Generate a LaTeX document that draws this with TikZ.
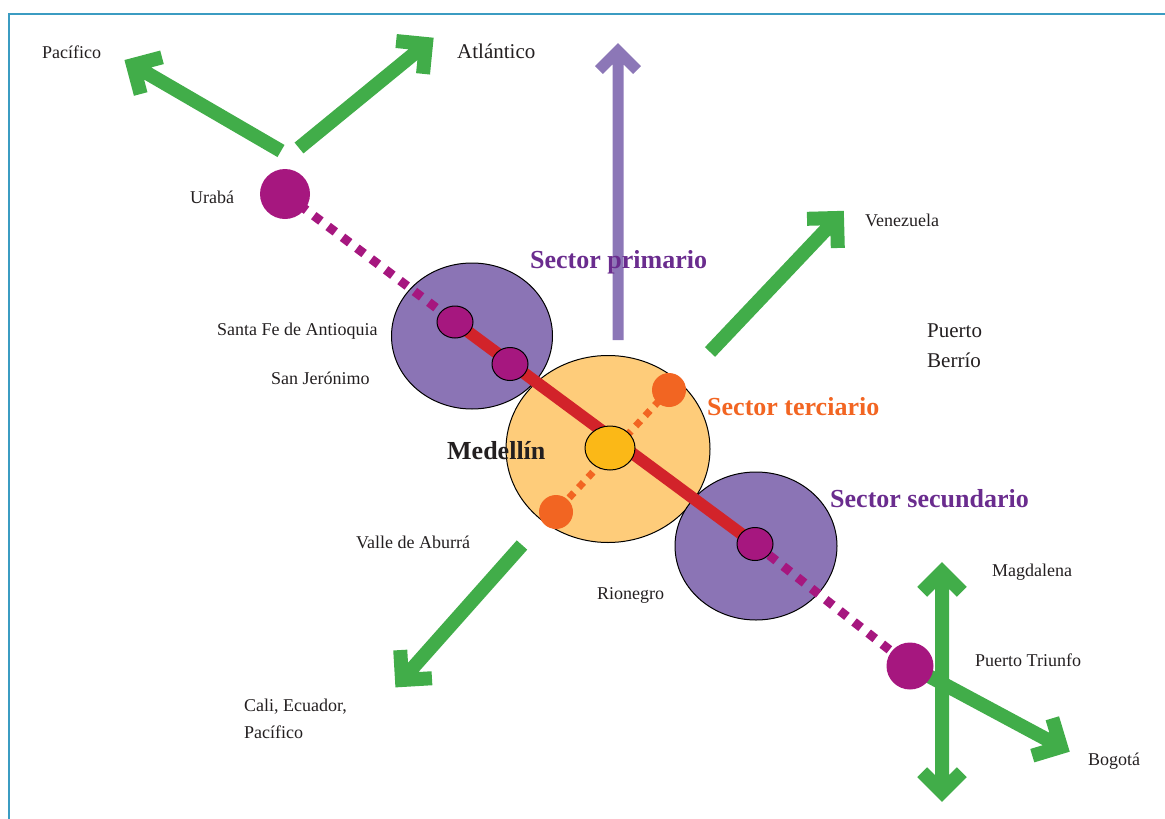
\documentclass[tikz,border=0pt]{standalone}
\usepackage{fontspec}
\setmainfont{Liberation Serif}
\usetikzlibrary{calc,shapes.geometric}
\pgfdeclarelayer{bg}
\pgfdeclarelayer{mid}
\pgfsetlayers{bg,mid,main}
\definecolor{frameblue}{HTML}{3B9CC2}
\definecolor{grn}{HTML}{41AD49}
\definecolor{parrow}{HTML}{8C77B7}
\definecolor{pfill}{HTML}{8B74B5}
\definecolor{mag}{HTML}{A6177F}
\definecolor{redl}{HTML}{D2232A}
\definecolor{ofill}{HTML}{FECC7A}
\definecolor{yel}{HTML}{FBB817}
\definecolor{org}{HTML}{F26522}
\definecolor{ptext}{HTML}{6A2C8E}
\definecolor{txt}{HTML}{231F20}
\tikzset{
  garrow/.style={draw=grn, line width=14pt, line join=miter},
  parrowline/.style={draw=parrow, line width=11pt, line join=miter},
  blob/.style={shape=ellipse, inner sep=0pt, draw=black, line width=1pt},
  dot/.style={shape=circle, inner sep=0pt},
  magdash/.style={draw=mag, line width=9pt, dash pattern=on 9pt off 9pt},
  orgdash/.style={draw=org, line width=7pt, dash pattern=on 7pt off 7pt},
  lbl/.style={inner sep=0pt, anchor=base west, text=txt, font=\fontsize{18}{22}\selectfont},
  lblbig/.style={lbl, font=\fontsize{21}{26}\selectfont},
  sector/.style={inner sep=0pt, anchor=base west, font=\bfseries\fontsize{26}{30}\selectfont}
}
\begin{document}
\begin{tikzpicture}[x=1pt,y=-1pt]
\useasboundingbox (0,0) rectangle (1165,819);

\begin{pgfonlayer}{bg}
% frame
\draw[frameblue, line width=2pt] (1165,14) -- (9,14) -- (9,819);

% coordinates for arrows
\coordinate (paTail) at (281,151);  \coordinate (paTip) at (133,65);
\coordinate (atTail) at (299,148);  \coordinate (atTip) at (426,44);
\coordinate (veTail) at (710,352);  \coordinate (veTip) at (837,218);
\coordinate (vaTail) at (522,545);  \coordinate (vaTip) at (402,680);
\coordinate (mgTop) at (942,572);   \coordinate (mgBot) at (942,792);
\coordinate (boTip) at (1061,747);
\coordinate (prTail) at (618,340);  \coordinate (prTip) at (618,51);

% green arrows
\draw[garrow] (paTail) -- (paTip) ($(paTip)!30pt!45:(paTail)$) -- (paTip) -- ($(paTip)!30pt!-45:(paTail)$);
\draw[garrow] (atTail) -- (atTip) ($(atTip)!30pt!45:(atTail)$) -- (atTip) -- ($(atTip)!30pt!-45:(atTail)$);
\draw[garrow] (veTail) -- (veTip) ($(veTip)!30pt!45:(veTail)$) -- (veTip) -- ($(veTip)!30pt!-45:(veTail)$);
\draw[garrow] (vaTail) -- (vaTip) ($(vaTip)!30pt!45:(vaTail)$) -- (vaTip) -- ($(vaTip)!30pt!-45:(vaTail)$);
\draw[garrow] (mgTop) -- (mgBot)
  ($(mgTop)!28pt!45:(mgBot)$) -- (mgTop) -- ($(mgTop)!28pt!-45:(mgBot)$)
  ($(mgBot)!28pt!45:(mgTop)$) -- (mgBot) -- ($(mgBot)!28pt!-45:(mgTop)$);

% purple arrow
\draw[parrowline] (prTail) -- (prTip) ($(prTip)!27pt!45:(prTail)$) -- (prTip) -- ($(prTip)!27pt!-45:(prTail)$);

% big ellipses
\node[blob, fill=pfill, minimum width=161pt, minimum height=146pt] (santafe) at (472,336) {};
\node[blob, fill=ofill, minimum width=204pt, minimum height=187pt] (medellin) at (608,449) {};
\node[blob, fill=pfill, minimum width=162pt, minimum height=148pt] (secund) at (756,546) {};
\end{pgfonlayer}

% small nodes
\node[dot, fill=mag, minimum size=50pt] (uraba) at (285,194) {};
\node[dot, fill=mag, minimum size=47pt] (ptriunfo) at (910,666) {};
\node[blob, fill=mag, minimum width=36pt, minimum height=32pt] (m1) at (455,322) {};
\node[blob, fill=mag, minimum width=36pt, minimum height=33pt] (m2) at (510,364) {};
\node[blob, fill=mag, minimum width=36pt, minimum height=33pt] (m3) at (755,544) {};
\node[blob, fill=yel, minimum width=50pt, minimum height=44pt] (cen) at (610,448) {};
\node[dot, fill=org, minimum width=34pt, minimum height=32pt] (o1) at (669,390) {};
\node[dot, fill=org, minimum width=34pt, minimum height=32pt] (o2) at (556,512) {};

% connectors beneath the small nodes
\begin{pgfonlayer}{mid}
\draw[magdash] (uraba.center) -- (m1.center);
\draw[magdash] (m3.center) -- (ptriunfo.center);
\draw[orgdash] (o1.center) -- (o2.center);
\draw[redl, line width=12pt] (m1.center) -- (m3.center);
\draw[garrow] (ptriunfo.center) -- (boTip) ($(boTip)!30pt!45:(ptriunfo.center)$) -- (boTip) -- ($(boTip)!30pt!-45:(ptriunfo.center)$);
\end{pgfonlayer}

% labels
\node[lbl] (lPac) at (42,58) {Pacífico};
\node[lblbig] (lAtl) at (457,58) {Atlántico};
\node[lbl] (lUra) at (190,203) {Urabá};
\node[lbl] (lVen) at (865,226) {Venezuela};
\node[sector, text=ptext] (lPrim) at (530,268) {Sector primario};
\node[lbl] (lSF) at (217,335) {Santa Fe de Antioquia};
\node[lblbig] (lPB1) at (927,337) {Puerto};
\node[lblbig] (lPB2) at (927,367) {Berrío};
\node[lbl] (lSJ) at (271,384) {San Jerónimo};
\node[sector, text=org] (lTer) at (707,415) {Sector terciario};
\node[sector, text=txt] (lMed) at (447,459) {Medellín};
\node[sector, text=ptext] (lSec) at (830,507) {Sector secundario};
\node[lbl] (lVal) at (356,548) {Valle de Aburrá};
\node[lbl] (lMag) at (992,576) {Magdalena};
\node[lbl] (lRio) at (597,599) {Rionegro};
\node[lbl] (lPT) at (975,666) {Puerto Triunfo};
\node[lbl] (lCali1) at (244,711) {Cali, Ecuador,};
\node[lbl] (lCali2) at (244,738) {Pacífico};
\node[lbl] (lBog) at (1088,765) {Bogotá};
\end{tikzpicture}
\end{document}
